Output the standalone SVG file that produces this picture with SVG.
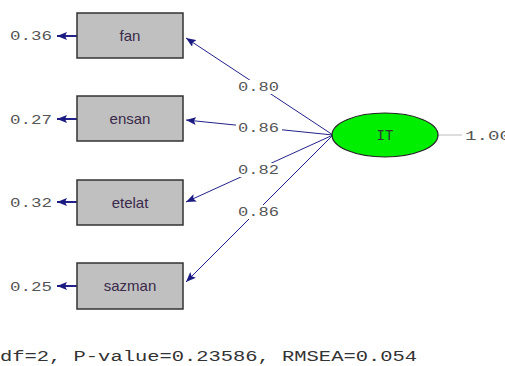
<svg xmlns="http://www.w3.org/2000/svg" width="505" height="366" viewBox="0 0 505 366">
  <style>
    .box rect { fill: #c0c0c0; stroke: #333; stroke-width: 1.5; }
    .lbl { font-family: "Liberation Sans", Arial, sans-serif; font-size: 15px; fill: #3a2a4a; text-anchor: middle; }
    .num { font-family: "Liberation Mono", "Courier New", monospace; font-size: 13px; fill: #555; }
    .path { stroke: #22228a; stroke-width: 1; fill: none; }
    .err { stroke: #22228a; stroke-width: 2; fill: none; }
  </style>
  <defs>
    <marker id="head" viewBox="0 0 10 8" refX="10" refY="4" markerWidth="10" markerHeight="8" markerUnits="userSpaceOnUse" orient="auto">
      <path d="M0,0 L10,4 L0,8 L2,4 Z" fill="#1a1a80"/>
    </marker>
  </defs>
  <rect width="505" height="366" fill="#fff"/>

  <g id="connectors">
    <line class="path" x1="333" y1="135" x2="186" y2="38" marker-end="url(#head)"/>
    <line class="path" x1="333" y1="135" x2="186" y2="120" marker-end="url(#head)"/>
    <line class="path" x1="333" y1="135" x2="186" y2="202" marker-end="url(#head)"/>
    <line class="path" x1="333" y1="135" x2="186" y2="282" marker-end="url(#head)"/>
    <line class="err" x1="77" y1="36" x2="57" y2="36" marker-end="url(#head)"/>
    <line class="err" x1="77" y1="119" x2="57" y2="119" marker-end="url(#head)"/>
    <line class="err" x1="77" y1="202" x2="57" y2="202" marker-end="url(#head)"/>
    <line class="err" x1="77" y1="286" x2="57" y2="286" marker-end="url(#head)"/>
    <line x1="438" y1="135" x2="462" y2="135" stroke="#bbb" stroke-width="1"/>
    <!-- loading labels sit on gaps in the paths -->
    <rect x="236" y="80" width="46" height="14" fill="#fff"/>
    <rect x="236" y="121" width="46" height="14" fill="#fff"/>
    <rect x="236" y="163" width="46" height="14" fill="#fff"/>
    <rect x="236" y="205" width="46" height="14" fill="#fff"/>
    <text class="num" x="238" y="91" textLength="41" lengthAdjust="spacingAndGlyphs">0.80</text>
    <text class="num" x="238" y="132" textLength="41" lengthAdjust="spacingAndGlyphs">0.86</text>
    <text class="num" x="238" y="174" textLength="41" lengthAdjust="spacingAndGlyphs">0.82</text>
    <text class="num" x="238" y="216" textLength="41" lengthAdjust="spacingAndGlyphs">0.86</text>
  </g>

  <g id="fan" class="box">
    <rect x="77" y="13" width="106" height="45"/>
    <text class="lbl" x="130" y="41">fan</text>
    <text class="num" x="10" y="40" textLength="42" lengthAdjust="spacingAndGlyphs">0.36</text>
  </g>
  <g id="ensan" class="box">
    <rect x="77" y="96" width="106" height="45"/>
    <text class="lbl" x="130" y="124">ensan</text>
    <text class="num" x="10" y="124" textLength="42" lengthAdjust="spacingAndGlyphs">0.27</text>
  </g>
  <g id="etelat" class="box">
    <rect x="77" y="180" width="106" height="45"/>
    <text class="lbl" x="130" y="208">etelat</text>
    <text class="num" x="10" y="207" textLength="42" lengthAdjust="spacingAndGlyphs">0.32</text>
  </g>
  <g id="sazman" class="box">
    <rect x="77" y="263" width="106" height="46"/>
    <text class="lbl" x="130" y="291">sazman</text>
    <text class="num" x="10" y="291" textLength="42" lengthAdjust="spacingAndGlyphs">0.25</text>
  </g>

  <g id="IT">
    <ellipse cx="385" cy="135" rx="53" ry="22" fill="#00ee00" stroke="#222" stroke-width="1.2"/>
    <text class="num" x="385" y="140" text-anchor="middle" style="fill:#333;font-size:14px">IT</text>
    <text class="num" x="465" y="140" textLength="46" lengthAdjust="spacingAndGlyphs">1.00</text>
  </g>

  <text class="num" x="0" y="361" style="font-size:14px;fill:#333" textLength="417" lengthAdjust="spacingAndGlyphs">df=2, P-value=0.23586, RMSEA=0.054</text>
</svg>
